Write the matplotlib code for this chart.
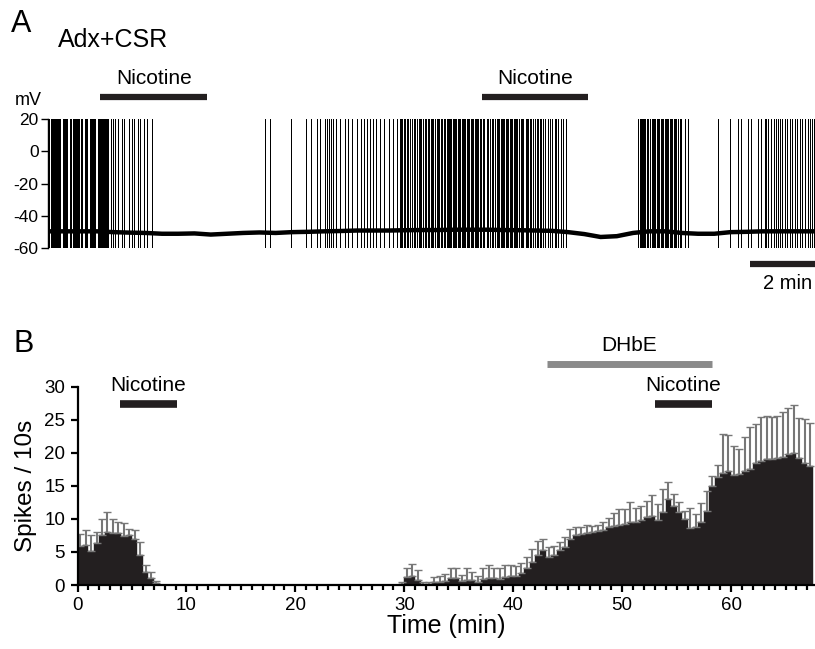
import matplotlib.pyplot as plt
import numpy as np

plt.rcParams['font.family'] = ['Liberation Sans', 'DejaVu Sans']
plt.rcParams['axes.unicode_minus'] = False

# ---- panel A: membrane potential trace (time in min, mV) ----
baseline_t = np.arange(0, 24.0, 0.5)
baseline_mv = [-49.5, -49.5, -49.5, -49.5, -50.0, -50.3, -50.5, -51.0, -51.0, -50.8,
               -51.5, -51.0, -50.5, -50.2, -50.5, -50.0, -49.8, -49.5, -49.3, -49.0,
               -49.0, -49.0, -48.8, -48.7, -48.7, -48.5, -48.5, -48.5, -48.7, -48.8,
               -49.0, -49.2, -50.0, -51.2, -53.0, -52.5, -50.5, -49.5, -49.5, -50.5,
               -51.0, -51.0, -50.0, -49.8, -49.5, -49.5, -49.5, -49.5]

spikes_1 = [0.00, 0.03, 0.07, 0.10, 0.13, 0.19, 0.22, 0.25, 0.28, 0.31, 0.34, 0.37,
            0.44, 0.47, 0.50, 0.53, 0.56, 0.59, 0.66, 0.69, 0.76, 0.79, 0.82, 0.85,
            0.88, 0.91, 0.94, 1.02, 1.05, 1.12, 1.15, 1.18, 1.27, 1.32, 1.35, 1.38,
            1.41, 1.44, 1.53, 1.56, 1.59, 1.62, 1.65, 1.68, 1.71, 1.74, 1.77, 1.80,
            1.85, 1.93, 2.00, 2.05, 2.15, 2.26, 2.33, 2.49, 2.57, 2.64, 2.77, 2.82,
            2.94, 3.03, 3.18]
spikes_2 = [6.67, 6.82, 7.46, 7.92, 8.08, 8.26, 8.36, 8.51, 8.58, 8.65, 8.70, 8.77,
            8.87, 8.98, 9.13, 9.23, 9.34, 9.49, 9.64, 9.71, 9.80, 9.90, 10.00, 10.08,
            10.21, 10.33, 10.49, 10.62, 10.72, 10.82, 10.86, 10.89, 10.94, 10.98,
            11.03, 11.08, 11.13, 11.18, 11.25, 11.30, 11.35, 11.40, 11.44, 11.48,
            11.52, 11.59, 11.64, 11.69, 11.73, 11.77, 11.81, 11.85, 11.90, 11.95,
            11.99, 12.03, 12.08, 12.12, 12.17, 12.22, 12.26, 12.30, 12.33, 12.37,
            12.41, 12.45, 12.49, 12.53, 12.56, 12.60, 12.64, 12.68, 12.72, 12.76,
            12.80, 12.84, 12.88, 12.92, 12.96, 13.00, 13.04, 13.08, 13.12, 13.16,
            13.20, 13.24, 13.29, 13.33, 13.38, 13.42, 13.49, 13.54, 13.59, 13.66,
            13.70, 13.74, 13.80, 13.84, 13.88, 13.92, 13.96, 14.00, 14.04, 14.08,
            14.12, 14.16, 14.20, 14.24, 14.28, 14.32, 14.36, 14.40, 14.44, 14.48,
            14.54, 14.58, 14.62, 14.69, 14.73, 14.77, 14.82, 14.87, 14.92, 14.97,
            15.03, 15.08, 15.13, 15.18, 15.23, 15.28, 15.39, 15.44, 15.49, 15.59,
            15.64, 15.69, 15.77, 15.85, 15.93]
spikes_3 = [18.16, 18.20, 18.24, 18.28, 18.31, 18.35, 18.38, 18.42, 18.46, 18.52,
            18.57, 18.61, 18.65, 18.69, 18.73, 18.77, 18.81, 18.85, 18.89, 18.93,
            18.97, 19.01, 19.05, 19.09, 19.13, 19.17, 19.21, 19.25, 19.29, 19.33,
            19.37, 19.45, 19.49, 19.59, 19.69]
spikes_4 = [20.62, 20.98, 21.23, 21.33, 21.54, 21.62, 21.85, 21.95, 22.05, 22.10,
            22.16, 22.26, 22.34, 22.41, 22.46, 22.51, 22.59, 22.67, 22.75, 22.82,
            22.89, 22.98, 23.06, 23.13, 23.20, 23.28, 23.37, 23.44, 23.51, 23.57]

nicotine_a = [(1.6, 4.9), (13.36, 16.62)]
trace_len = 23.6

# ---- panel B: spikes per 10 s, averaged into 30 s bins ----
bin_w = 0.5
early_start = 0.0
early_mean = [5.9, 6.1, 5.2, 6.4, 7.5, 8.0, 7.8, 7.9, 7.4, 7.5, 7.0, 4.5, 2.0, 1.0, 0.3]
early_err = [1.8, 2.2, 2.3, 1.6, 2.5, 3.0, 2.2, 1.7, 2.0, 1.0, 1.3, 2.0, 1.0, 1.0, 0.3]
late_start = 29.5
late_mean = [0.2, 1.2, 1.3, 0.8, 0.1, 0.2, 0.4, 0.5, 0.6, 1.0, 1.1, 0.6, 0.8, 0.7, 0.5,
             0.9, 1.0, 1.1, 0.9, 1.2, 1.3, 1.4, 1.8, 2.5, 3.5, 4.6, 5.3, 4.2, 4.5, 5.3,
             5.8, 7.0, 7.6, 7.7, 7.9, 8.0, 8.1, 8.3, 8.7, 8.9, 9.1, 9.3, 9.5, 9.6, 9.8,
             10.3, 10.4, 9.9, 11.0, 13.0, 12.0, 11.0, 10.0, 8.6, 8.8, 9.6, 11.2, 15.0,
             16.3, 17.0, 17.2, 16.6, 16.8, 17.2, 17.6, 18.4, 18.8, 19.0, 19.1, 19.2,
             19.4, 19.8, 20.0, 19.2, 18.5, 18.0]
late_err = [0.3, 1.4, 1.9, 1.5, 0.3, 0.3, 0.8, 0.8, 1.0, 1.6, 1.5, 0.9, 1.8, 1.2, 0.9,
            1.6, 2.0, 1.4, 1.6, 1.9, 1.8, 1.5, 1.6, 1.8, 2.0, 2.0, 1.7, 1.6, 1.4, 1.2,
            1.5, 1.4, 1.2, 1.0, 1.2, 1.0, 1.0, 1.2, 1.5, 2.0, 2.4, 2.2, 3.0, 2.0, 2.2,
            2.4, 3.2, 2.4, 3.5, 2.6, 1.8, 1.5, 1.2, 3.0, 2.0, 2.8, 3.0, 1.5, 1.8, 5.8,
            5.5, 4.5, 3.8, 5.2, 6.3, 6.0, 6.6, 6.5, 6.3, 6.4, 6.8, 7.0, 7.2, 6.0, 6.6,
            6.5]
nicotine_b = [(3.9, 9.1), (53.0, 58.2)]
dhbe_b = (43.1, 58.2)
time_max = 67.7

W, H = 815, 649
fig = plt.figure(figsize=(W / 100, H / 100), dpi=100)


def box(left, top, right, bottom):
    return [left / W, 1 - bottom / H, (right - left) / W, (bottom - top) / H]


# ---------------- A ----------------
ax = fig.add_axes(box(48.3, 119, 815, 248.3))
spikes = spikes_1 + spikes_2 + spikes_3 + spikes_4
ax.vlines(spikes, -60, 20, color='black', lw=0.7, antialiased=False)
ax.plot(baseline_t, baseline_mv, color='black', lw=3.2, solid_joinstyle='round')
ax.set_xlim(0, trace_len)
ax.set_ylim(-60, 20)
for s in ['top', 'right', 'bottom']:
    ax.spines[s].set_visible(False)
ax.spines['left'].set_linewidth(1.0)
ax.set_xticks([])
ax.set_yticks([20, 0, -20, -40, -60])
ax.tick_params(axis='y', length=5, width=1.0, pad=2, labelsize=12.5)

for t0, t1 in nicotine_a:
    ax.plot([t0, t1], [33.6, 33.6], color='#231f20', lw=4.5,
            solid_capstyle='butt', clip_on=False)
    ax.text((t0 + t1) / 2, 41.7, 'Nicotine', ha='center', va='baseline',
            fontsize=15, clip_on=False)

# 2 min scale bar
ax.plot([trace_len - 2.0, trace_len], [-69.9, -69.9], color='#231f20', lw=4.5,
        solid_capstyle='butt', clip_on=False)
ax.text(trace_len - 0.1, -85.4, '2 min', ha='right', va='baseline', fontsize=14.5)

fig.text(15 / W, 1 - 105 / H, 'mV', fontsize=13, va='baseline')
fig.text(11 / W, 1 - 32 / H, 'A', fontsize=22, va='baseline')
fig.text(58 / W, 1 - 47 / H, 'Adx+CSR', fontsize=18, va='baseline')

# ---------------- B ----------------
bx = fig.add_axes(box(77.5, 386.7, 815, 585))
for start, mean, err in [(early_start, early_mean, early_err),
                         (late_start, late_mean, late_err)]:
    x = start + bin_w * np.arange(len(mean)) + bin_w / 2
    bx.bar(x, mean, width=bin_w, color='#231f20', edgecolor='#231f20', lw=0.3,
           yerr=[np.zeros(len(err)), err], ecolor='#777777',
           error_kw=dict(elinewidth=1.5, capsize=3, capthick=1.0), zorder=2)

bx.set_xlim(0, time_max)
bx.set_ylim(0, 30)
for s in ['top', 'right']:
    bx.spines[s].set_visible(False)
for s in ['left', 'bottom']:
    bx.spines[s].set_linewidth(1.6)
bx.spines['left'].set_bounds(0, 30)
bx.set_yticks(range(0, 31, 5))
bx.set_xticks(range(0, 61, 10))
bx.set_xticks(range(0, 68), minor=True)
bx.tick_params(axis='both', which='major', length=5, width=1.6, labelsize=13.5, pad=4)
bx.tick_params(axis='x', which='minor', length=3.5, width=1.6)
bx.set_xlabel('Time (min)', fontsize=18, labelpad=0)
bx.set_ylabel('Spikes / 10s', fontsize=17.5, labelpad=5)

for t0, t1 in nicotine_b:
    bx.plot([t0, t1], [27.4, 27.4], color='#231f20', lw=5.5,
            solid_capstyle='butt', clip_on=False)
    bx.text((t0 + t1) / 2, 29.3, 'Nicotine', ha='center', va='baseline',
            fontsize=15, clip_on=False)
bx.plot(dhbe_b, [33.5, 33.5], color='#8a8a8a', lw=5.0, solid_capstyle='butt',
        clip_on=False)
bx.text(sum(dhbe_b) / 2, 35.4, 'DHbE', ha='center', va='baseline', fontsize=15,
        clip_on=False)

fig.text(13 / W, 1 - 352 / H, 'B', fontsize=22, va='baseline')

fig.savefig('out.png', dpi=100)
